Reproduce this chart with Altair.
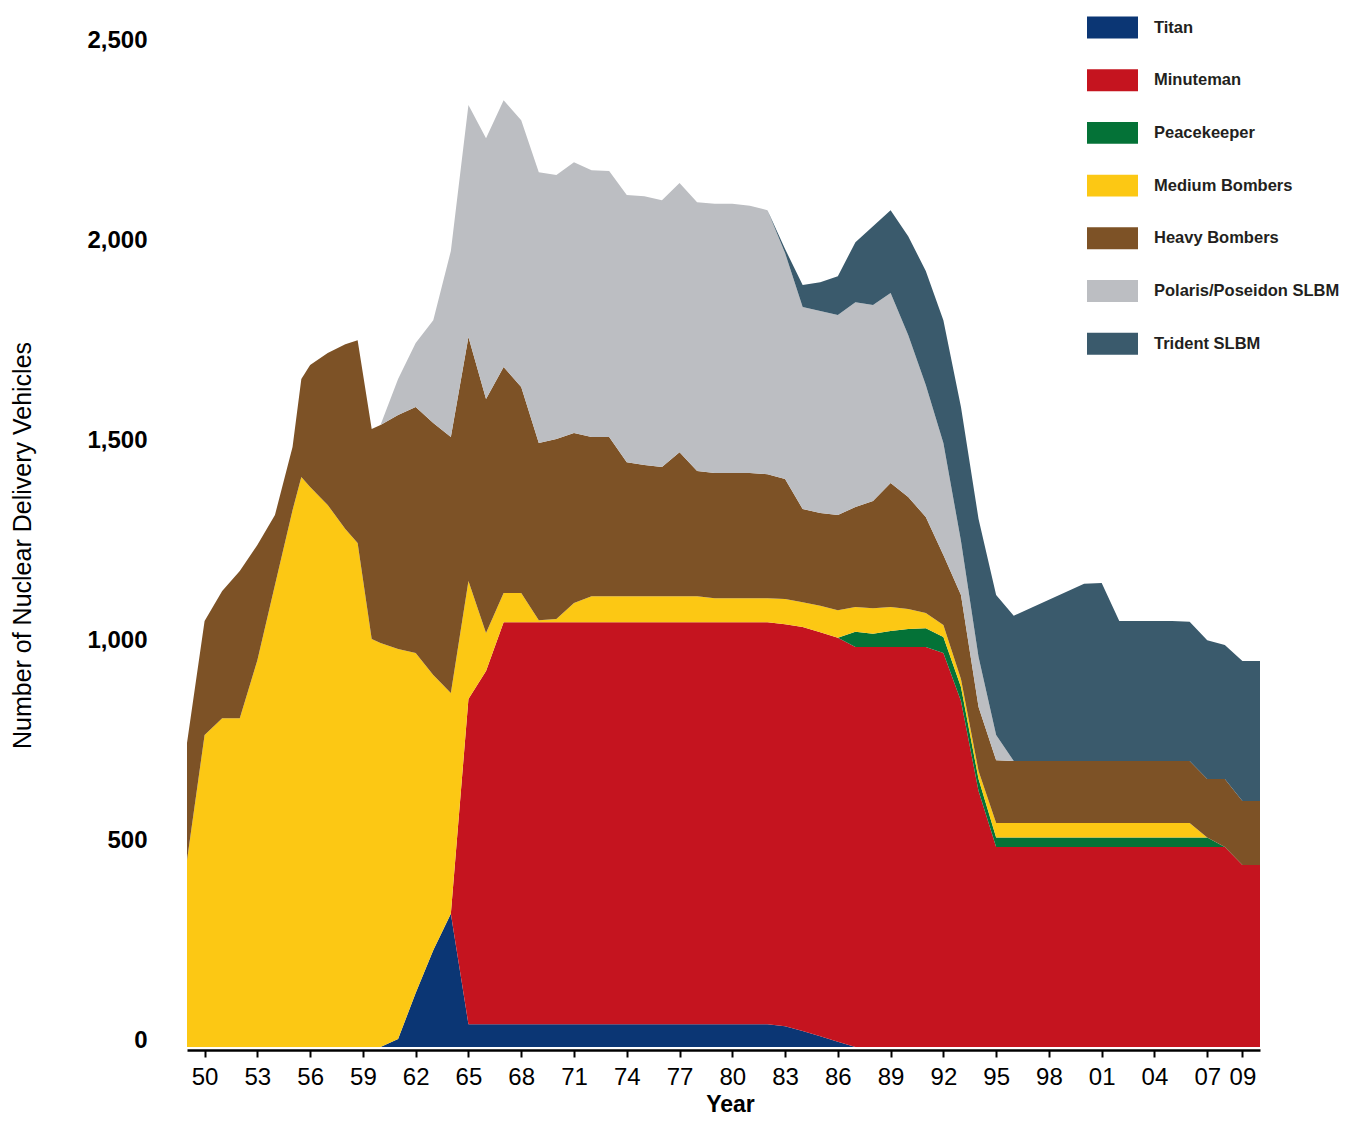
import altair as alt
import pandas as pd

# x positions of the data vertices (years)
years = [1949, 1950, 1951, 1952, 1953, 1954, 1955, 1955.5, 1956, 1957, 1958, 1958.7, 1959.5] + list(range(1960, 2011))

series_names = ["Titan", "Minuteman", "Peacekeeper", "Medium Bombers",
                "Heavy Bombers", "Polaris/Poseidon SLBM", "Trident SLBM"]
series_colors = ["#0b3674", "#c5141f", "#047237", "#fcc814",
                 "#7d5226", "#bcbec2", "#3a5a6c"]

titan = ([0] * 13 + [0, 20, 135, 242, 333] + [57] * 18 +
         [52, 40, 27, 13] + [0] * 24)

minuteman = ([0] * 13 + [0] * 5 + [813, 883] + [1005] * 17 +
             [1010, 1010, 1010, 1000] + [1000] * 4 + [985, 865, 640] +
             [500] * 14 + [455, 455])

peacekeeper = ([0] * 40 + [38, 33, 40, 45, 47, 40, 35, 30] +
               [24] * 13 + [0] * 3)

medium = ([467, 780, 822, 822, 967, 1155, 1342, 1425, 1400, 1355, 1295, 1260, 1020] +
          [1010, 975, 850, 688, 552, 295, 95, 73, 73, 5, 8, 48] +
          [65] * 7 + [60] * 4 +
          [63, 62, 66, 69, 62, 64, 60, 50, 38, 30, 20, 20] +
          [36] * 12 + [0] * 4)

heavy = ([293, 285, 318, 368, 288, 175, 158, 245, 305, 380, 462, 507, 525] +
         [545, 585, 615, 630, 640, 610, 585, 565, 515, 443, 450, 425,
          398, 398, 335, 328, 323, 360, 313, 313, 313, 313, 310, 300,
          233, 232, 238, 250, 268, 310, 280, 240, 175, 210, 160, 157] +
         [155] * 11 + [146, 170, 160, 160])

polaris = ([0] * 13 +
           [0, 90, 160, 257, 465, 580, 652, 667, 667, 677, 660, 677,
            667, 665, 668, 672, 667, 673, 672, 673, 673, 668, 660, 565,
            505, 505, 500, 512, 490, 475, 405, 330, 280, 135, 125, 63] +
           [0] * 15)

trident = ([0] * 36 +
           [10, 55, 72, 97, 150, 197, 207, 247, 285, 307, 335, 345, 350,
            363, 383, 403, 423, 443, 445, 350, 350, 350, 350, 348, 347,
            335, 350, 350])

x_ticks = [1950, 1953, 1956, 1959, 1962, 1965, 1968, 1971, 1974, 1977,
           1980, 1983, 1986, 1989, 1992, 1995, 1998, 2001, 2004, 2007, 2009]
y_ticks = [0, 500, 1000, 1500, 2000, 2500]

rows = []
for k, (name, vals) in enumerate(zip(series_names,
                                     [titan, minuteman, peacekeeper, medium,
                                      heavy, polaris, trident])):
    assert len(vals) == len(years), (name, len(vals))
    for yr, v in zip(years, vals):
        rows.append({"year": yr, "series": name, "value": v, "ord": k})
df = pd.DataFrame(rows)

FONT = "Liberation Sans"

chart = alt.Chart(df).mark_area(interpolate="linear").encode(
    x=alt.X("year:Q",
            scale=alt.Scale(domain=[1949, 2010], nice=False, zero=False),
            axis=alt.Axis(values=x_ticks,
                          labelExpr="substring(toString(datum.value), 2, 4)",
                          title="Year", grid=False,
                          domainColor="#000000", domainWidth=2.5,
                          tickColor="#000000", tickWidth=2, tickSize=7,
                          offset=3, labelFont=FONT, labelFontSize=24,
                          labelColor="#000000", labelPadding=8,
                          labelFlush=False, labelOverlap=False,
                          titleFont=FONT, titleFontSize=23,
                          titleFontWeight="bold", titleColor="#000000",
                          titleX=543, titleY=61, titleBaseline="alphabetic")),
    y=alt.Y("value:Q", stack="zero",
            scale=alt.Scale(domain=[0, 2500], nice=False),
            axis=alt.Axis(values=y_ticks, format=",d",
                          title="Number of Nuclear Delivery Vehicles",
                          grid=False, domain=False, ticks=False,
                          labelPadding=40, labelOffset=-7,
                          labelFont=FONT, labelFontSize=24,
                          labelFontWeight="bold", labelColor="#000000",
                          titleFont=FONT, titleFontSize=25,
                          titleFontWeight="normal", titleColor="#000000",
                          titleX=-165, titleY=498, titleBaseline="middle",
                          titleAngle=270)),
    color=alt.Color("series:N", sort=series_names,
                    scale=alt.Scale(domain=series_names, range=series_colors),
                    legend=alt.Legend(title=None, orient="none",
                                      legendX=900, legendY=-45,
                                      symbolType="M-1,-0.43L1,-0.43L1,0.43L-1,0.43Z",
                                      symbolSize=2601, symbolStrokeWidth=0,
                                      symbolOpacity=1,
                                      labelFont=FONT, labelFontSize=16.5,
                                      labelFontWeight="bold",
                                      labelColor="#231f20", labelOffset=16,
                                      rowPadding=15.7, labelLimit=400)),
    order=alt.Order("ord:Q", sort="ascending"),
).properties(
    width=1073, height=1000,
    autosize=alt.AutoSizeParams(type="none"),
    padding={"left": 179, "top": 39, "right": 83, "bottom": 68},
    background="#ffffff",
).configure_view(stroke=None)

chart.save("out.html", embed_options={"renderer": "svg", "actions": False})
